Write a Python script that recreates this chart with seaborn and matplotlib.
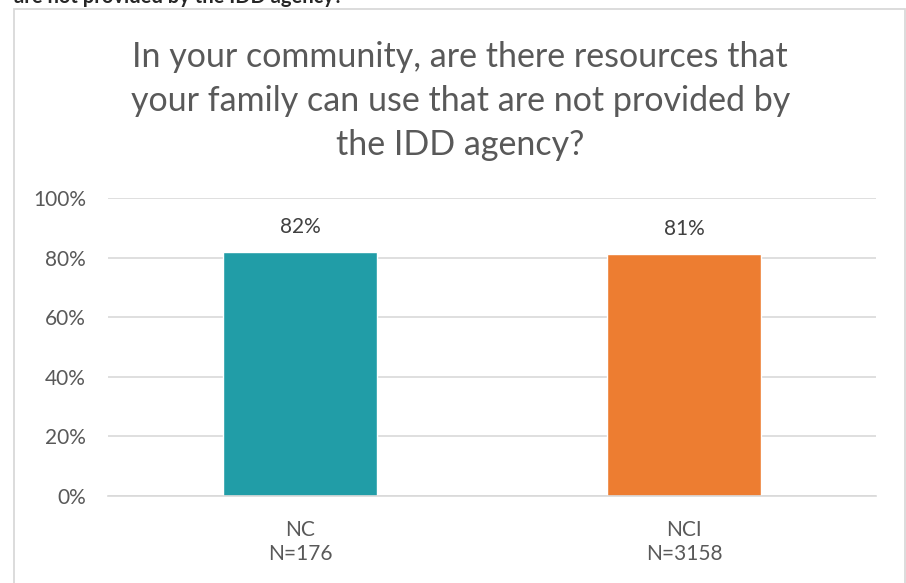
import pandas as pd
import matplotlib.pyplot as plt
import seaborn as sns
from matplotlib.patches import Rectangle
from matplotlib.ticker import PercentFormatter

# data
groups = ["NC", "NCI"]
sizes = [176, 3158]
share_yes = [0.82, 0.813]
bar_colors = ["#219DA7", "#ED7D31"]

df = pd.DataFrame({"group": groups, "share": share_yes})

sns.set_style("white")
plt.rcParams["font.family"] = ["Lato", "DejaVu Sans"]

fig = plt.figure(figsize=(9.06, 5.83), dpi=100)
ax = fig.add_axes([108 / 906, 87 / 583, 768 / 906, 297.7 / 583])

sns.barplot(data=df, x="group", y="share", hue="group", palette=bar_colors,
            width=0.40, legend=False, ax=ax, saturation=1)

ax.set_ylim(0, 1)
ax.set_yticks([0, 0.2, 0.4, 0.6, 0.8, 1.0])
ax.yaxis.set_major_formatter(PercentFormatter(1.0, decimals=0))
ax.grid(axis="y", color="#D9D9D9", linewidth=1.2)
ax.set_axisbelow(True)
for s in ["top", "right", "left"]:
    ax.spines[s].set_visible(False)
ax.spines["bottom"].set_color("#D9D9D9")
ax.spines["bottom"].set_linewidth(1.2)

ax.set_xticks(range(len(groups)))
ax.set_xticklabels([f"{g}\nN={n}" for g, n in zip(groups, sizes)], linespacing=1.3)
ax.tick_params(axis="both", length=0, labelsize=15, labelcolor="#595959")
ax.tick_params(axis="x", pad=17)
ax.tick_params(axis="y", pad=16)
ax.set_xlabel("")
ax.set_ylabel("")

for i, v in enumerate(share_yes):
    ax.text(i, v + 0.05, f"{v:.0%}", ha="center", va="bottom", fontsize=15, color="#404040")

fig.text(0.508, 1 - 101 / 583, "In your community, are there resources that\nyour family can use that are not provided by\nthe IDD agency?",
         ha="center", va="center", fontsize=24.5, color="#595959", linespacing=1.45)

# chart frame and clipped header above it
fig.add_artist(Rectangle((14 / 906, -0.05), 891 / 906, 1.05 - 8.5 / 583, transform=fig.transFigure,
                         fill=False, edgecolor="#D9D9D9", linewidth=1.3))
fig.text(14 / 906, 1 - 3 / 583, "are not provided by the IDD agency?", ha="left", va="baseline",
         fontsize=14.5, fontweight="bold", color="#262626")

fig.savefig("out.png", dpi=100)
